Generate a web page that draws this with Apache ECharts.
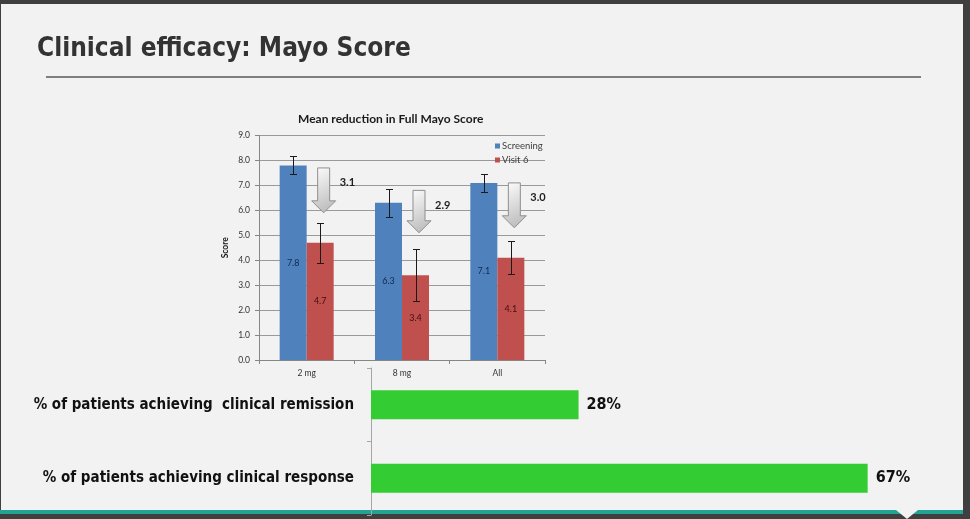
<!DOCTYPE html>
<html><head><meta charset="utf-8">
<script src="https://cdn.jsdelivr.net/npm/echarts@6/dist/echarts.min.js"></script>
<style>html,body{margin:0;padding:0;background:#f2f2f2;overflow:hidden}#c{width:970px;height:519px;}</style>
</head><body><div id="c"></div>
<script>
// ---- data ----
const slideTitle = 'Clinical efficacy: Mayo Score';
const chartTitle = 'Mean reduction in Full Mayo Score';
const doses = ['2 mg', '8 mg', 'All'];
const screening = [7.8, 6.3, 7.1];
const screeningErr = [0.36, 0.55, 0.37];
const visit6 = [4.7, 3.4, 4.1];
const visit6Err = [0.8, 1.05, 0.67];
const reduction = [3.1, 2.9, 3.0];
const arrowFrom = [7.7, 6.8, 7.1];
const arrowTo = [5.9, 5.1, 5.3];
const scoreMin = 0, scoreMax = 9, scoreStep = 1;
const outcomes = ['% of patients achieving  clinical remission', '% of patients achieving clinical response'];
const outcomePct = [28, 67];
const pctMax = 80;

// ---- styles ----
const FONT = "Lato, 'Open Sans', sans-serif";
const BIG = "'DejaVu Sans Condensed', Lato, sans-serif";
const BLUE = '#4f81bd', RED = '#c0504d', GREEN = '#33cc33';

function errorItem(offsetPx) {
  return function (params, api) {
    const i = api.value(0);
    const pLo = api.coord([i, api.value(1)]);
    const pHi = api.coord([i, api.value(2)]);
    const x = Math.round(pHi[0] + offsetPx) + 0.5;
    const yHi = Math.round(pHi[1]) + 0.5, yLo = Math.round(pLo[1]) + 0.5;
    const cap = 3.5, st = { stroke: '#1a1a1a', lineWidth: 1 };
    return { type: 'group', children: [
      { type: 'line', shape: { x1: x, y1: yHi, x2: x, y2: yLo }, style: st },
      { type: 'line', shape: { x1: x - cap, y1: yHi, x2: x + cap, y2: yHi }, style: st },
      { type: 'line', shape: { x1: x - cap, y1: yLo, x2: x + cap, y2: yLo }, style: st }
    ] };
  };
}

function arrowItem(params, api) {
  const i = api.value(0);
  const top = api.coord([i, api.value(1)]);
  const tip = api.coord([i, api.value(2)]);
  const cx = top[0] + 17;
  const headW = 12, shaftW = 6, headH = 12;
  const y0 = top[1], y1 = tip[1], yh = y1 - headH;
  const points = [[cx - shaftW, y0], [cx + shaftW, y0], [cx + shaftW, yh], [cx + headW, yh], [cx, y1], [cx - headW, yh], [cx - shaftW, yh]];
  return { type: 'group', children: [
    { type: 'polygon', shape: { points: points }, style: {
      fill: new echarts.graphic.LinearGradient(0, 0, 1, 1, [{ offset: 0, color: '#ffffff' }, { offset: 1, color: '#b4b4b4' }]),
      stroke: '#8f8f8f', lineWidth: 1 } },
    { type: 'text', style: { text: api.value(3).toFixed(1), x: cx + headW + 4, y: y0 + 15,
      fill: '#1f1f1f', font: 'bold 11px ' + FONT, verticalAlign: 'middle', align: 'left' } }
  ] };
}

const chart = echarts.init(document.getElementById('c'));
chart.setOption({
  animation: false,
  backgroundColor: '#f2f2f2',
  title: [
    { text: slideTitle, left: 32, top: 31, textStyle: { fontSize: 26, fontWeight: 'bold', color: '#333333', fontFamily: BIG } },
    { text: chartTitle, left: 293, top: 108, textStyle: { fontSize: 12, fontWeight: 'bold', color: '#1a1a1a', fontFamily: FONT } }
  ],
  legend: {
    data: ['Screening', 'Visit 6'], left: 490, top: 136, orient: 'vertical', icon: 'rect',
    itemWidth: 5, itemHeight: 5, itemGap: 4,
    textStyle: { fontSize: 9.5, color: '#404040', fontFamily: FONT, padding: [0, 0, 0, -3] }
  },
  graphic: [
    { type: 'rect', shape: { x: 0, y: 0, width: 970, height: 4 }, style: { fill: '#3f3f3f' }, silent: true },
    { type: 'rect', shape: { x: 0, y: 0, width: 1, height: 519 }, style: { fill: '#3f3f3f' }, silent: true },
    { type: 'rect', shape: { x: 963, y: 0, width: 7, height: 519 }, style: { fill: '#3f3f3f' }, silent: true },
    { type: 'rect', shape: { x: 0, y: 510, width: 963, height: 4 }, style: { fill: '#22a394' }, silent: true },
    { type: 'rect', shape: { x: 0, y: 514, width: 970, height: 5 }, style: { fill: '#3f3f3f' }, silent: true },
    { type: 'polygon', shape: { points: [[896, 510], [918, 510], [907, 519]] }, style: { fill: '#f2f2f2' }, silent: true },
    { type: 'line', shape: { x1: 46, y1: 77, x2: 921, y2: 77 }, style: { stroke: '#7f7f7f', lineWidth: 2 }, silent: true }
  ],
  grid: [
    { left: 259, top: 135.5, width: 286, height: 224.5, outerBoundsMode: 'none', containLabel: false },
    { left: 371, top: 368, width: 593, height: 147, outerBoundsMode: 'none', containLabel: false }
  ],
  xAxis: [
    { gridIndex: 0, type: 'category', data: doses,
      axisLine: { lineStyle: { color: '#868686' } },
      axisTick: { show: true, length: 4, lineStyle: { color: '#868686' } },
      axisLabel: { margin: 9, fontSize: 8.5, color: '#333', fontFamily: FONT } },
    { gridIndex: 1, type: 'value', min: 0, max: pctMax, show: false, splitLine: { show: false } }
  ],
  yAxis: [
    { gridIndex: 0, type: 'value', min: scoreMin, max: scoreMax, interval: scoreStep,
      name: 'Score', nameLocation: 'middle', nameRotate: 90, nameGap: 29,
      nameTextStyle: { fontSize: 8.5, fontWeight: 'bold', color: '#1a1a1a', fontFamily: FONT },
      axisLine: { show: true, lineStyle: { color: '#868686' } },
      axisTick: { show: true, length: 4, lineStyle: { color: '#868686' } },
      axisLabel: { margin: 9, fontSize: 8.5, color: '#333', fontFamily: FONT, formatter: v => v.toFixed(1) },
      splitLine: { lineStyle: { color: '#9a9a9a' } } },
    { gridIndex: 1, type: 'category', data: outcomes, inverse: true,
      axisLine: { lineStyle: { color: '#a6a6a6' } },
      axisTick: { show: true, length: 4, lineStyle: { color: '#a6a6a6' } },
      axisLabel: { margin: 17, fontSize: 15, fontWeight: 'bold', color: '#111', fontFamily: BIG } }
  ],
  series: [
    { name: 'Screening', type: 'bar', xAxisIndex: 0, yAxisIndex: 0, data: screening, barWidth: 27, barGap: '0%',
      itemStyle: { color: BLUE },
      label: { show: true, position: 'inside', fontSize: 9, color: '#13294b', fontFamily: FONT, formatter: p => p.value.toFixed(1) } },
    { name: 'Visit 6', type: 'bar', xAxisIndex: 0, yAxisIndex: 0, data: visit6, barWidth: 27, barGap: '0%',
      itemStyle: { color: RED },
      label: { show: true, position: 'inside', fontSize: 9, color: '#3d1010', fontFamily: FONT, formatter: p => p.value.toFixed(1) } },
    { name: 'Screening error', type: 'custom', xAxisIndex: 0, yAxisIndex: 0, z: 5,
      renderItem: errorItem(-13.5), encode: { x: 0, y: [1, 2] },
      data: screening.map((v, i) => [i, v - screeningErr[i], v + screeningErr[i]]) },
    { name: 'Visit 6 error', type: 'custom', xAxisIndex: 0, yAxisIndex: 0, z: 5,
      renderItem: errorItem(13.5), encode: { x: 0, y: [1, 2] },
      data: visit6.map((v, i) => [i, v - visit6Err[i], v + visit6Err[i]]) },
    { name: 'Reduction', type: 'custom', xAxisIndex: 0, yAxisIndex: 0, z: 6,
      renderItem: arrowItem, encode: { x: 0, y: [1, 2] },
      data: reduction.map((r, i) => [i, arrowFrom[i], arrowTo[i], r]) },
    { name: 'Outcome', type: 'bar', xAxisIndex: 1, yAxisIndex: 1, data: outcomePct, barWidth: 29,
      itemStyle: { color: GREEN },
      label: { show: true, position: 'right', distance: 8, formatter: '{c}%', fontSize: 16, fontWeight: 'bold', color: '#111', fontFamily: BIG } }
  ]
});
</script>
</body></html>
